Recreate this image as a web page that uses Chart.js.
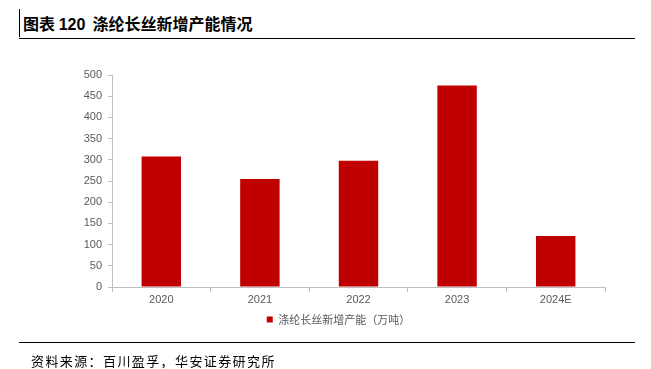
<!DOCTYPE html>
<html>
<head>
<meta charset="utf-8">
<script src="https://cdn.jsdelivr.net/npm/chart.js@4.4.1/dist/chart.umd.min.js"></script>
<style>
  body { margin: 0; background: #fff; }
  #wrap { position: relative; width: 651px; height: 369px; overflow: hidden; }
  #chart { position: absolute; left: 0; top: 0; }
  .title {
    position: absolute; left: 19px; top: 9px; height: 28px;
    border-left: 1px solid #000; padding-left: 3px;
    font: bold 16px "Noto Sans CJK SC", sans-serif; line-height: 28px; color: #000;
  }
  .title b { font-family: "Liberation Sans", Arial, sans-serif; }
  .rule { position: absolute; left: 19px; width: 616px; height: 1px; background: #000; }
  .source {
    position: absolute; left: 31px; top: 351px;
    font: 13px "Noto Sans CJK SC", sans-serif; letter-spacing: 1.4px; color: #000;
  }
</style>
</head>
<body>
<div id="wrap">
  <div class="title">图表 <b>120</b> &nbsp;涤纶长丝新增产能情况</div>
  <div class="rule" style="top:38px"></div>
  <canvas id="chart" width="651" height="369"></canvas>
  <div class="rule" style="top:342px"></div>
  <div class="source">资料来源：百川盈孚，华安证券研究所</div>
</div>
<script>
const years = ['2020', '2021', '2022', '2023', '2024E'];
const newCapacity = [308, 255, 298, 475, 120];
const seriesName = '涤纶长丝新增产能（万吨）';
const yTicks = [0, 50, 100, 150, 200, 250, 300, 350, 400, 450, 500];

const axisGrey = '#bfbfbf';
const tickGrey = '#595959';

new Chart(document.getElementById('chart'), {
  type: 'bar',
  data: {
    labels: years,
    datasets: [{
      label: seriesName,
      data: newCapacity,
      backgroundColor: '#c00000',
      borderWidth: 0,
      categoryPercentage: 1,
      barPercentage: 0.4
    }]
  },
  options: {
    responsive: false,
    animation: false,
    layout: { padding: { left: 72, right: 46, top: 75, bottom: 34 } },
    plugins: {
      tooltip: { enabled: false },
      legend: {
        position: 'bottom',
        labels: {
          boxWidth: 6, boxHeight: 6, padding: 5,
          color: tickGrey,
          font: { family: '"Noto Sans CJK SC", sans-serif', size: 11 }
        }
      }
    },
    scales: {
      x: {
        afterFit: s => { s.height = 22; },
        border: { color: axisGrey, width: 1 },
        grid: { offset: true, drawOnChartArea: false, color: axisGrey, tickLength: 5 },
        ticks: { color: tickGrey, font: { family: '"Liberation Sans", Arial, sans-serif', size: 11 }, padding: 1 }
      },
      y: {
        min: 0, max: 500,
        afterFit: s => { s.width = 40; },
        afterBuildTicks: s => { s.ticks = yTicks.map(v => ({ value: v })); },
        border: { color: axisGrey, width: 1 },
        grid: { drawOnChartArea: false, color: axisGrey, tickLength: 4 },
        ticks: { color: tickGrey, font: { family: '"Liberation Sans", Arial, sans-serif', size: 11 }, padding: 6 }
      }
    }
  }
});
</script>
</body>
</html>
